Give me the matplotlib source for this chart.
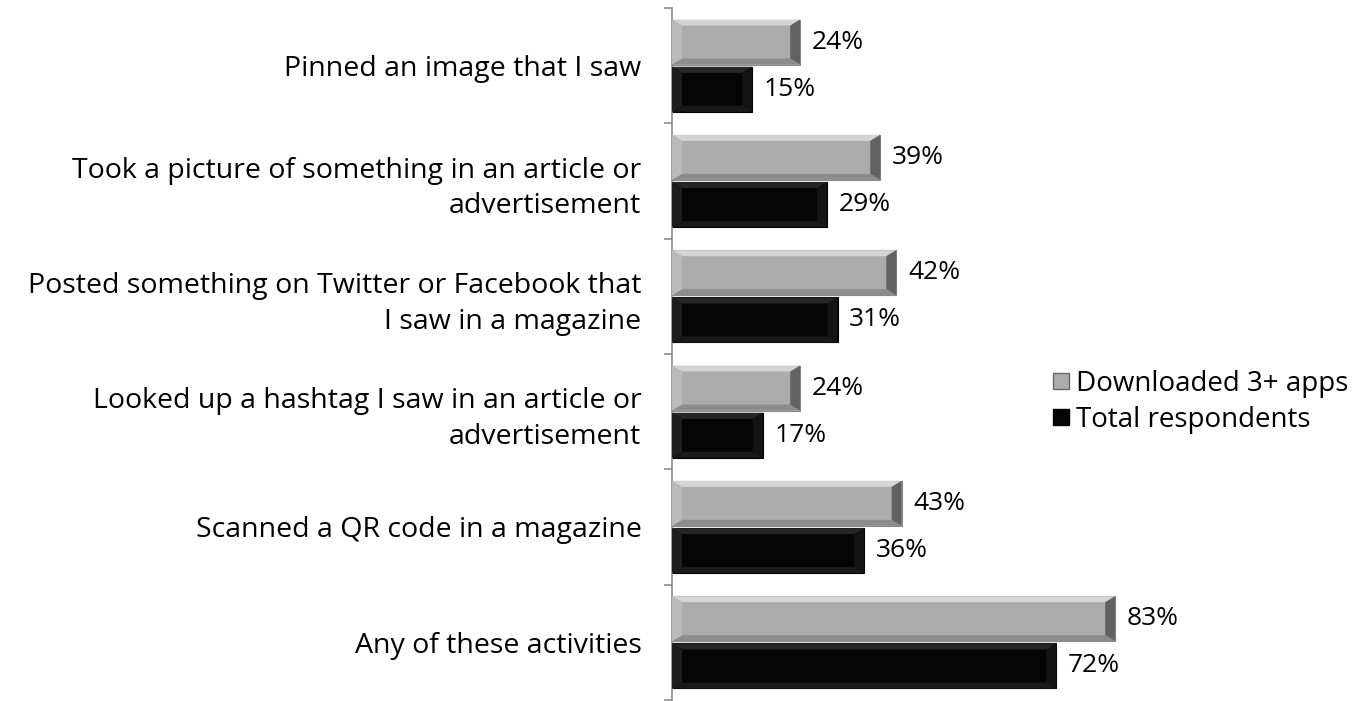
import matplotlib
matplotlib.use("Agg")
import matplotlib.pyplot as plt
from matplotlib.patches import Polygon
from matplotlib.lines import Line2D
from matplotlib.transforms import IdentityTransform
import numpy as np

categories = [
    "Pinned an image that I saw",
    "Took a picture of something in an article or\nadvertisement",
    "Posted something on Twitter or Facebook that\nI saw in a magazine",
    "Looked up a hashtag I saw in an article or\nadvertisement",
    "Scanned a QR code in a magazine",
    "Any of these activities",
]
downloaded = [24, 39, 42, 24, 43, 83]
total = [15, 29, 31, 17, 36, 72]
series_names = ["Downloaded 3+ apps", "Total respondents"]

plt.rcParams['font.family'] = ['Open Sans', 'DejaVu Sans']
W, H = 1359, 701
fig = plt.figure(figsize=(W / 100, H / 100), dpi=100)
ax_left, ax_right = 672, 1210
ax_top, ax_bot = 8, 700
ax = fig.add_axes([ax_left / W, 1 - ax_bot / H, (ax_right - ax_left) / W, (ax_bot - ax_top) / H])

n = len(categories)
y = np.arange(n)
bh = 0.39
gap = 0.02
ax.set_xlim(0, (ax_right - ax_left) / 5.34)
ax.set_ylim(n - 0.5, -0.5)

gray_face, black_face = "#acacac", "#050505"
bars_g = ax.barh(y - bh / 2 - gap / 2, downloaded, height=bh, color=gray_face, edgecolor="#8a8a8a", linewidth=0.8, zorder=2)
bars_b = ax.barh(y + bh / 2 + gap / 2, total, height=bh, color=black_face, edgecolor="#000000", linewidth=0.8, zorder=2)

for s in ["top", "right", "bottom"]:
    ax.spines[s].set_visible(False)
ax.spines["left"].set_color("#8c8c8c")
ax.spines["left"].set_linewidth(1.2)
ax.set_xticks([])
ax.set_yticks(y)
ax.set_yticklabels(categories, fontsize=20.5, linespacing=1.38)
ax.tick_params(axis="y", which="major", length=0, pad=22)
ax.set_yticks(np.arange(n + 1) - 0.5, minor=True)
ax.tick_params(axis="y", which="minor", length=6, color="#8c8c8c", width=1.2)
for lbl in ax.get_yticklabels():
    lbl.set_horizontalalignment("right")

fig.canvas.draw()

def bevel(bar, light, dark, side_light, side_dark, bw=10, bv=6):
    (x0, y0), (x1, y1) = ax.transData.transform([(bar.get_x(), bar.get_y()), (bar.get_x() + bar.get_width(), bar.get_y() + bar.get_height())])
    top, bot = max(y0, y1), min(y0, y1)
    l, r = x0, x1
    polys = [
        ([(l, top), (r, top), (r - bw, top - bv), (l + bw, top - bv)], light),
        ([(l, bot), (r, bot), (r - bw, bot + bv), (l + bw, bot + bv)], dark),
        ([(l, top), (l + bw, top - bv), (l + bw, bot + bv), (l, bot)], side_light),
        ([(r, top), (r - bw, top - bv), (r - bw, bot + bv), (r, bot)], side_dark),
    ]
    for pts, c in polys:
        fig.add_artist(Polygon(pts, closed=True, facecolor=c, edgecolor="none", transform=IdentityTransform(), zorder=3))

for b in bars_g:
    bevel(b, "#d4d4d4", "#8c8c8c", "#bababa", "#626262")
for b in bars_b:
    bevel(b, "#262626", "#1a1a1a", "#1e1e1e", "#141414")

for b, v in zip(bars_g, downloaded):
    ax.text(v + 2.2, b.get_y() + b.get_height() / 2, f"{v}%", va="center", ha="left", fontsize=19, zorder=4)
for b, v in zip(bars_b, total):
    ax.text(v + 2.2, b.get_y() + b.get_height() / 2, f"{v}%", va="center", ha="left", fontsize=19, zorder=4)

handles = [
    Line2D([], [], marker="s", linestyle="none", markersize=11, markerfacecolor=gray_face, markeredgecolor="#666666"),
    Line2D([], [], marker="s", linestyle="none", markersize=11, markerfacecolor=black_face, markeredgecolor="#000000"),
]
fig.legend(handles, series_names, loc="center left", bbox_to_anchor=(1036 / W, 1 - 402 / H), frameon=False,
           fontsize=20, handletextpad=0.05, handlelength=1.0, labelspacing=0.3, borderaxespad=0)

fig.savefig("out.png", dpi=100)
